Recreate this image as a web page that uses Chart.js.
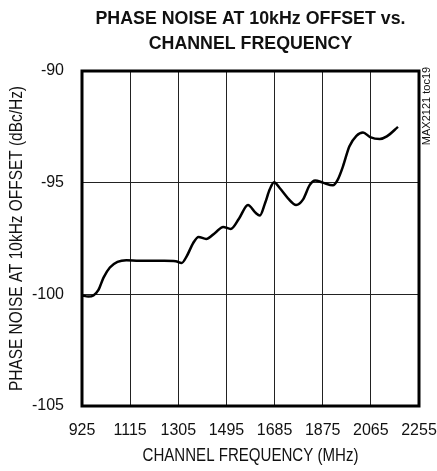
<!DOCTYPE html>
<html lang="en">
<head>
    <meta charset="UTF-8">
    <title>Phase Noise vs Channel Frequency</title>
    <script src="https://cdn.jsdelivr.net/npm/chart.js"></script>
    <style>
        body {
            margin: 0;
            background: #fff;
        }
        .chart-container {
            position: relative;
            width: 437px;
            height: 471px;
        }
    </style>
</head>
<body>
    <div class="chart-container">
        <canvas id="noiseChart"></canvas>
    </div>

    <script>
        // values (MHz, dBc/Hz)
        const freq = [925, 950, 970, 990, 1010, 1035, 1065, 1100, 1150, 1200, 1250, 1295, 1318, 1338, 1364, 1385,
            1415, 1450, 1482, 1512, 1545, 1580, 1610, 1627, 1648, 1666, 1683, 1705, 1738, 1770, 1797, 1824,
            1845, 1876, 1915, 1935, 1955, 1980, 2008, 2034, 2062, 2100, 2128, 2172];
        const noise = [-100.05, -100.1, -100.05, -99.8, -99.25, -98.8, -98.55, -98.47, -98.5, -98.5, -98.5, -98.52, -98.6, -98.3, -97.7, -97.43,
            -97.52, -97.25, -96.98, -97.07, -96.6, -96.0, -96.35, -96.47, -95.9, -95.3, -94.98, -95.24, -95.7, -96.0, -95.76, -95.1,
            -94.9, -95.0, -95.12, -94.85, -94.27, -93.38, -92.9, -92.75, -92.96, -93.05, -92.93, -92.5];
        const xTicks = [925, 1115, 1305, 1495, 1685, 1875, 2065, 2255];
        const yTicks = [-105, -100, -95, -90];
        const titleLines = ['PHASE NOISE AT 10kHz OFFSET vs.', 'CHANNEL FREQUENCY'];
        const xTitle = 'CHANNEL FREQUENCY (MHz)';
        const yTitle = 'PHASE NOISE AT 10kHz OFFSET (dBc/Hz)';

        const sans = "'Liberation Sans', Arial, sans-serif";

        // the printed fonts are narrow, so squeeze text to a given width
        function narrowText(ctx, text, x, y, width, rot) {
            ctx.save();
            ctx.translate(x, y);
            if (rot) ctx.rotate(rot);
            ctx.scale(width / ctx.measureText(text).width, 1);
            ctx.fillText(text, 0, 0);
            ctx.restore();
        }

        const frame = {
            id: 'frame',
            afterDraw(chart) {
                const { ctx, chartArea: a } = chart;
                ctx.save();
                ctx.strokeStyle = '#000';
                ctx.lineWidth = 3;
                ctx.strokeRect(a.left, a.top, a.right - a.left, a.bottom - a.top);

                ctx.fillStyle = '#111';
                ctx.textAlign = 'center';
                ctx.textBaseline = 'middle';
                const cx = (a.left + a.right) / 2;
                const cy = (a.top + a.bottom) / 2;

                ctx.font = 'bold 18px ' + sans;
                const sx = 310 / ctx.measureText(titleLines[0]).width;
                narrowText(ctx, titleLines[0], cx, 19, 310);
                narrowText(ctx, titleLines[1], cx, 44, ctx.measureText(titleLines[1]).width * sx);

                ctx.font = '18px ' + sans;
                narrowText(ctx, xTitle, cx, 456, 216);
                narrowText(ctx, yTitle, 17, cy, 305, -Math.PI / 2);

                ctx.font = '11px ' + sans;
                ctx.translate(427, 106);
                ctx.rotate(-Math.PI / 2);
                ctx.fillText('MAX2121 toc19', 0, 0);
                ctx.restore();
            }
        };

        const ctx = document.getElementById('noiseChart').getContext('2d');
        const chart = new Chart(ctx, {
            type: 'line',
            data: {
                datasets: [{
                    data: freq.map((f, i) => ({ x: f, y: noise[i] })),
                    borderColor: '#000',
                    borderWidth: 2.5,
                    pointRadius: 0,
                    fill: false,
                    cubicInterpolationMode: 'monotone'
                }]
            },
            options: {
                responsive: true,
                maintainAspectRatio: false,
                animation: false,
                layout: { padding: { top: 71, right: 18, left: 0, bottom: 0 } },
                plugins: {
                    legend: { display: false },
                    tooltip: { enabled: false }
                },
                scales: {
                    x: {
                        type: 'linear',
                        min: 925,
                        max: 2255,
                        afterBuildTicks: s => { s.ticks = xTicks.map(v => ({ value: v })); },
                        afterFit: s => { s.height = 65; s.paddingLeft = 0; s.paddingRight = 0; },
                        grid: { color: '#222', lineWidth: 1, drawTicks: false },
                        border: { display: false },
                        ticks: {
                            padding: 15,
                            maxRotation: 0,
                            color: '#111',
                            font: { family: sans, size: 16 },
                            callback: v => String(v)
                        }
                    },
                    y: {
                        min: -105,
                        max: -90,
                        afterBuildTicks: s => { s.ticks = yTicks.map(v => ({ value: v })); },
                        afterFit: s => { s.width = 82; },
                        grid: { color: '#222', lineWidth: 1, drawTicks: false },
                        border: { display: false },
                        ticks: {
                            padding: 18,
                            color: '#111',
                            font: { family: sans, size: 16 },
                            callback: v => String(v)
                        }
                    }
                }
            },
            plugins: [frame]
        });
    </script>
</body>
</html>
